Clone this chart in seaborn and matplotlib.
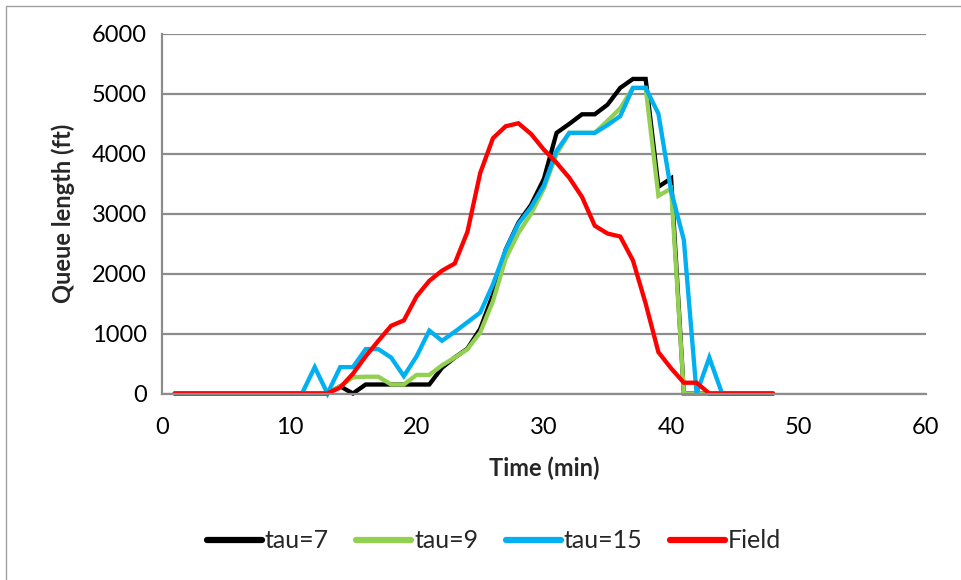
import matplotlib
matplotlib.use("Agg")
import matplotlib.pyplot as plt
import numpy as np
import pandas as pd
import seaborn as sns
from matplotlib.patches import Rectangle

# Time axis (minutes)
time_min = list(range(1, 49))

# Simulated queue lengths (ft) for each tau, and observed field queue
tau7 = [0]*13 + [120, 0, 150, 150, 150, 150, 150, 150, 430, 600, 750, 1080, 1650,
        2400, 2850, 3150, 3580, 4350, 4500, 4660, 4660, 4820, 5100, 5250, 5250,
        3450, 3590, 0, 0, 0, 0, 0, 0, 0, 0]
tau9 = [0]*13 + [120, 270, 280, 280, 150, 150, 310, 310, 470, 600, 740, 1020, 1540,
        2250, 2680, 3000, 3420, 4000, 4350, 4350, 4350, 4550, 4760, 5100, 5100,
        3300, 3420, 0, 0, 0, 0, 0, 0, 0, 0]
tau15 = [0]*11 + [440, 0, 440, 440, 740, 740, 600, 290, 620, 1050, 880, 1030, 1190,
         1350, 1820, 2400, 2830, 3110, 3470, 4050, 4350, 4350, 4350, 4480, 4630,
         5100, 5100, 4670, 3380, 2560, 0, 600, 0, 0, 0, 0, 0]
field = [0]*13 + [100, 330, 620, 880, 1130, 1220, 1620, 1880, 2050, 2170, 2700,
         3680, 4260, 4460, 4510, 4330, 4070, 3850, 3600, 3280, 2800, 2670, 2620,
         2220, 1500, 690, 420, 180, 180, 0, 0, 0, 0, 0, 0]

series_names = ["tau=7", "tau=9", "tau=15", "Field"]
series_values = [tau7, tau9, tau15, field]
series_colors = ["#000000", "#92D050", "#00B0F0", "#FF0000"]

x_ticks = [0, 10, 20, 30, 40, 50, 60]
y_ticks = [0, 1000, 2000, 3000, 4000, 5000, 6000]

df = pd.concat(
    [pd.DataFrame({"Time": time_min, "Queue": vals, "Series": name})
     for name, vals in zip(series_names, series_values)],
    ignore_index=True,
)

sns.set_theme(style="white")
plt.rcParams["font.family"] = ["Lato", "DejaVu Sans"]

fig = plt.figure(figsize=(9.61, 5.80), dpi=100)
ax = fig.add_axes([162/961, 1 - 393.5/580, (925.7 - 162)/961, (393.5 - 34)/580])

sns.lineplot(
    data=df, x="Time", y="Queue", hue="Series", hue_order=series_names,
    palette=dict(zip(series_names, series_colors)), estimator=None, sort=False,
    linewidth=3.1, ax=ax, legend=True,
)
for line in ax.lines:
    line.set_solid_joinstyle("miter")
    line.set_clip_on(False)

ax.set_xlim(0, 60)
ax.set_ylim(0, 6000)
ax.set_xticks(x_ticks)
ax.set_yticks(y_ticks)
ax.set_xticklabels([str(t) for t in x_ticks], fontsize=17)
ax.set_yticklabels([str(t) for t in y_ticks], fontsize=17)

grid_color = "#8C8C8C"
ax.yaxis.grid(True, color=grid_color, linewidth=1.6)
ax.set_axisbelow(True)
for side in ["top", "right"]:
    ax.spines[side].set_visible(False)
for side in ["left", "bottom"]:
    ax.spines[side].set_color(grid_color)
    ax.spines[side].set_linewidth(1.6)
ax.tick_params(axis="both", direction="out", length=6, width=1.4,
               color=grid_color, labelcolor="black", pad=5)
ax.tick_params(axis="x", pad=11)

ax.set_xlabel("Time (min)", fontsize=17, fontweight="bold", labelpad=13)
ax.set_ylabel("Queue length (ft)", fontsize=17, fontweight="bold", labelpad=12)

handles, labels = ax.get_legend_handles_labels()
ax.legend_.remove()
for h in handles:
    h.set_linewidth(4.5)
    h.set_solid_capstyle("round")
fig.legend(handles, labels, loc="center", bbox_to_anchor=(494/961, 1 - 541/580),
           ncol=4, frameon=False, fontsize=18, handlelength=2.2,
           handletextpad=0.12, columnspacing=1.1)

# Chart-area border
fig.patches.append(Rectangle((6/961, -0.1), 1.2, (1 - 6/580) + 0.1,
                             transform=fig.transFigure, fill=False,
                             edgecolor="#A0A0A0", linewidth=1.0))

fig.savefig("out.png", dpi=100)
